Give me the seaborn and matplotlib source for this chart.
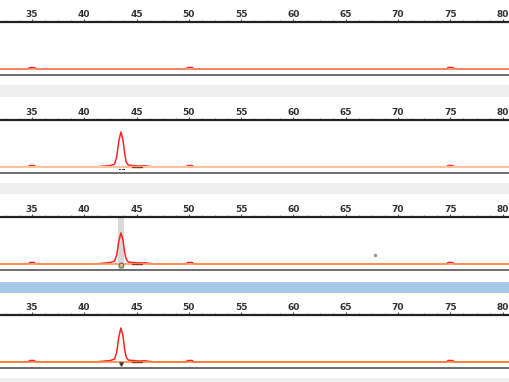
import numpy as np
import pandas as pd
import matplotlib
matplotlib.use("Agg")
import matplotlib.pyplot as plt
import seaborn as sns
from matplotlib.patches import Rectangle

# fragment sizes (bp) where the trace changes
sizes = [31.9, 34.6, 34.8, 35.2, 35.4, 41.0, 41.5, 42.0, 42.5, 42.9, 43.1, 43.3, 43.5,
         43.7, 43.85, 44.0, 44.2, 44.6, 45.2, 45.8, 46.3, 46.8, 49.7, 49.9, 50.3, 50.5,
         74.6, 74.8, 75.2, 75.4, 80.7]

# signal height for each lane, same order as sizes
lane1 = [0, 0, 1.5, 1.5, 0, 0, 0, 0, 0, 0, 0, 0, 0,
         0, 0, 0, 0, 0, 0, 0, 0, 0, 0, 1.5, 1.5, 0,
         0, 1.5, 1.5, 0, 0]
lane2 = [0, 0, 1.5, 1.5, 0, 0, 0.5, 1, 1.5, 3, 10, 26, 35,
         27, 14, 5, 2, 1.5, 1, 1.2, 0.5, 0, 0, 1.5, 1.5, 0,
         0, 1.5, 1.5, 0, 0]
lane3 = [0, 0, 1.5, 1.5, 0, 0, 0.5, 1, 1.5, 3, 9, 23, 31,
         24, 12, 5, 2, 1.5, 1, 1.2, 0.5, 0, 0, 1.5, 1.5, 0,
         0, 1.5, 1.5, 0, 0]
lane4 = [0, 0, 1.5, 1.5, 0, 0, 0.5, 1, 1.5, 3, 10, 25, 34,
         26, 13, 5, 2, 1.5, 1, 1.2, 0.5, 0, 0, 1.5, 1.5, 0,
         0, 1.5, 1.5, 0, 0]
lanes = [lane1, lane2, lane3, lane4]

major_ticks = [35, 40, 45, 50, 55, 60, 65, 70, 75, 80]
baseline_colors = ["#ff8c64", "#ffc49c", "#ff9a5c", "#ff8a3c"]

# pixel rows of each panel (top line, bottom line) in a 382 px tall figure
panel_rows = [(22, 75), (120, 173), (217, 270), (315, 368)]
bands = [(85, 97, "#efefef"), (183, 194, "#efefef"), (282, 293, "#a9c7e9"), (378, 382, "#efefef")]

sns.set_style("white")
plt.rcParams['font.family'] = ['DejaVu Sans']

W, H = 510, 382
fig = plt.figure(figsize=(W / 100, H / 100), dpi=100)

for y0, y1, col in bands:
    fig.add_artist(Rectangle((0, 1 - y1 / H), 1, (y1 - y0) / H,
                             transform=fig.transFigure, color=col, lw=0, zorder=0))

for i, (lane, (top, bot)) in enumerate(zip(lanes, panel_rows)):
    ax = fig.add_axes([0, 1 - bot / H, 1, (bot - top) / H])
    df = pd.DataFrame({"size": sizes, "rfu": lane})

    if i == 2:
        ax.axvspan(43.2, 43.8, color="#d9d9d9", lw=0, zorder=0)
        ax.plot([67.8], [9], marker="o", ms=1.5, color="#999999", zorder=3)

    sns.lineplot(data=df, x="size", y="rfu", color="#ff2424", lw=1.1,
                 estimator=None, ax=ax, zorder=2)
    ax.axhline(0, color=baseline_colors[i], lw=1.6 if i == 1 else 1.2, zorder=3)

    if i > 0:
        # allele call markers below the peak
        ax.plot([44.6, 45.5], [-0.2, -0.2], color="#8a3a1c", lw=1.0, zorder=4)
        if i == 1:
            ax.plot([43.3, 43.45], [-1.6, -1.6], color="#333333", lw=0.8, zorder=4)
            ax.plot([43.6, 43.75], [-1.6, -1.6], color="#333333", lw=0.8, zorder=4)
        elif i == 2:
            ax.plot([43.5], [-1.2], marker="o", ms=3.5, mfc="#c8c070", mec="#555555",
                    mew=0.6, zorder=4)
        else:
            ax.plot([43.5], [-1.5], marker="v", ms=2.5, color="#444444", zorder=4)

    ax.set_xlabel("")
    ax.set_ylabel("")
    ax.set_yticks([])
    ax.xaxis.tick_top()
    ax.set_xticks(major_ticks)
    ax.set_xticklabels([str(t) for t in major_ticks])
    ax.set_xticks(np.arange(32.5, 80.7, 1.25), minor=True)
    ax.set_xlim(31.94, 80.7)
    ax.set_ylim(-6, 47)
    ax.tick_params(axis="x", which="major", top=True, bottom=False, length=2,
                   width=0.8, color="#555555", pad=0.5, labelsize=6.5,
                   labelcolor="#333333")
    ax.tick_params(axis="x", which="minor", top=True, bottom=False, length=1.5,
                   width=0.6, color="#888888")
    for lab in ax.get_xticklabels():
        lab.set_fontweight("bold")
    ax.spines["left"].set_visible(False)
    ax.spines["right"].set_visible(False)
    ax.spines["top"].set_color("#222222")
    ax.spines["top"].set_linewidth(1.6)
    ax.spines["bottom"].set_color("#555555")
    ax.spines["bottom"].set_linewidth(1.2)
    ax.patch.set_alpha(0)

fig.savefig("out.png", dpi=100)
